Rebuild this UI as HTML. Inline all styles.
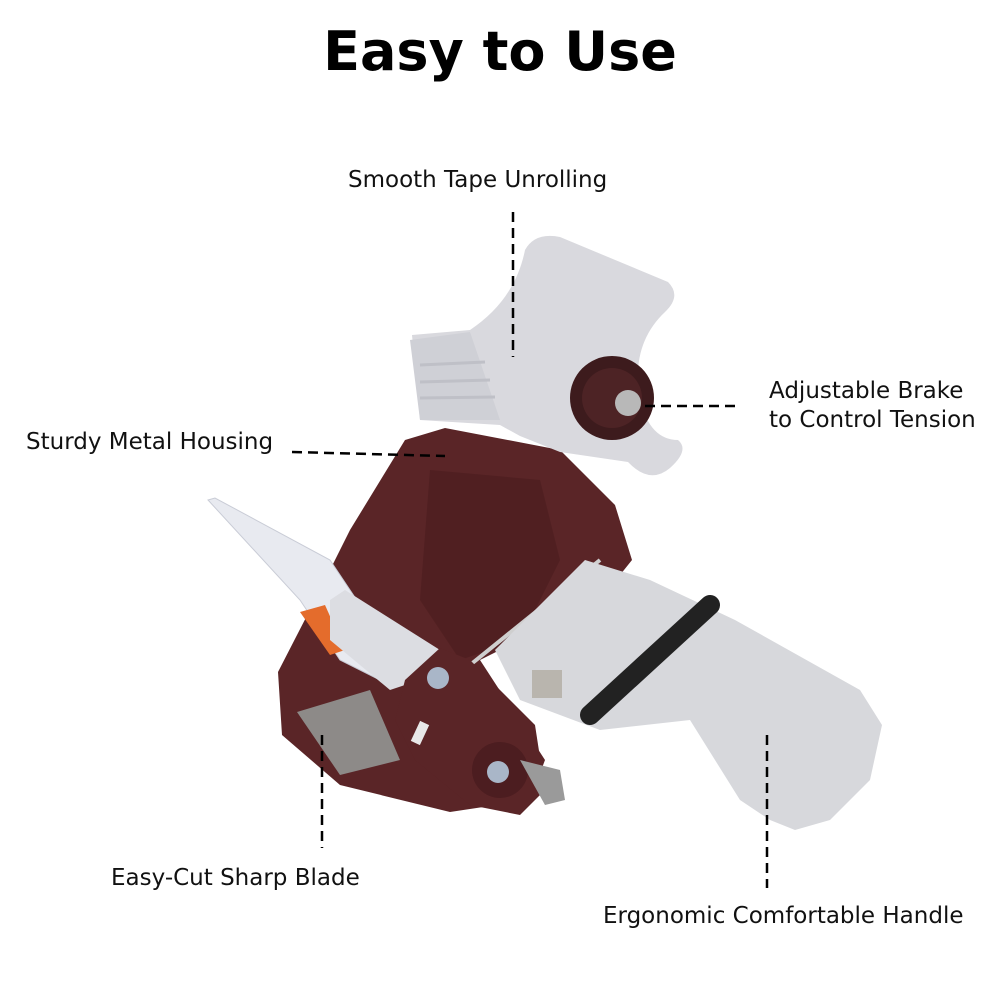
<!DOCTYPE html>
<html><head><meta charset="utf-8"><style>
body{margin:0;background:#fff;}
.wrap{position:relative;width:1000px;height:1000px;overflow:hidden;background:#fff;font-family:"DejaVu Sans","Liberation Sans",sans-serif;}
.t{position:absolute;color:#111;font-size:23px;white-space:nowrap;line-height:29px;}
h1{position:absolute;left:0;width:1000px;top:20px;margin:0;text-align:center;font-family:"DejaVu Sans","Liberation Sans",sans-serif;font-weight:bold;font-size:54px;color:#000;}
svg{position:absolute;left:0;top:0;}
</style></head><body><div class="wrap">
<svg width="1000" height="1000" viewBox="0 0 1000 1000">
<path d="M405,440 L445,428 L560,450 L615,505 L632,560 L600,600 L480,660 L545,760 L530,800 L450,812 L340,785 L282,735 L278,672 L315,600 L350,530 Z" fill="#5a2527"/>
<path d="M430,470 L540,480 L560,560 L520,640 L460,660 L420,600 Z" fill="#4a1c1e" opacity="0.6"/>
<path d="M208,500 L215,498 L330,560 L390,650 L380,680 L340,660 L300,600 Z" fill="#e8eaf0" stroke="#c9ccd6"/>
<path d="M300,612 L325,605 L345,650 L330,655 Z" fill="#e46c2c"/>
<path d="M297,712 L370,690 L400,760 L340,775 Z" fill="#8d8a88"/>
<path d="M330,600 L345,590 L440,650 L420,680 L390,690 L330,640 Z" fill="#dcdde2"/>
<line x1="470" y1="665" x2="600" y2="560" stroke="#cfcfcf" stroke-width="4"/>
<path d="M495,650 L585,560 L650,580 L735,620 L860,690 L882,725 L870,780 L830,820 L795,830 L770,820 L740,800 L715,760 L690,720 L600,730 L560,715 L520,700 Z" fill="#d7d8dc"/>
<path d="M590,715 L710,605" stroke="#222" stroke-width="20" stroke-linecap="round"/>
<path d="M405,680 L440,648 L470,660 L535,725 L545,790 L520,815 L470,805 L415,760 L395,720 Z" fill="#5a2527"/>
<circle cx="500" cy="770" r="28" fill="#4c1d20"/>
<circle cx="498" cy="772" r="11" fill="#a9b6c8"/>
<circle cx="438" cy="678" r="11" fill="#a9b6c8"/>
<rect x="415" y="722" width="10" height="22" fill="#e8e8e8" transform="rotate(25 420 733)"/>
<path d="M520,760 L560,770 L565,800 L545,805 Z" fill="#9a9a9a"/>
<rect x="532" y="670" width="30" height="28" fill="#b9b5ae"/>
<path d="M412,335 L470,330 Q515,300 525,250 Q535,232 560,237 L668,282 Q682,296 665,312 Q630,345 640,400 Q650,440 678,440 Q690,450 670,468 Q650,485 628,462 L560,452 L520,436 L500,425 L420,420 Z" fill="#d9d9de"/>
<path d="M410,340 L470,332 L500,420 L420,420 Z" fill="#cfd0d6"/>
<g stroke="#bfc0c7" stroke-width="3"><line x1="420" y1="365" x2="485" y2="362"/><line x1="420" y1="382" x2="490" y2="380"/><line x1="420" y1="398" x2="495" y2="397"/></g>
<circle cx="612" cy="398" r="42" fill="#3d1b1d"/>
<circle cx="612" cy="398" r="30" fill="#4d2325"/>
<circle cx="628" cy="403" r="13" fill="#b8b8b8"/>
<g stroke="#000" stroke-width="2.5" stroke-dasharray="10,6" fill="none">
<line x1="513" y1="212" x2="513" y2="357"/>
<line x1="645" y1="406" x2="740" y2="406"/>
<line x1="292" y1="452" x2="445" y2="456"/>
<line x1="322" y1="735" x2="322" y2="848"/>
<line x1="767" y1="735" x2="767" y2="888"/>
</g>
</svg>
<h1>Easy to Use</h1>
<div class="t" style="left:348px;top:166px;">Smooth Tape Unrolling</div>
<div class="t" style="left:769px;top:377px;">Adjustable Brake<br>to Control Tension</div>
<div class="t" style="left:26px;top:428px;">Sturdy Metal Housing</div>
<div class="t" style="left:111px;top:864px;">Easy-Cut Sharp Blade</div>
<div class="t" style="left:603px;top:902px;">Ergonomic Comfortable Handle</div>
</div></body></html>
